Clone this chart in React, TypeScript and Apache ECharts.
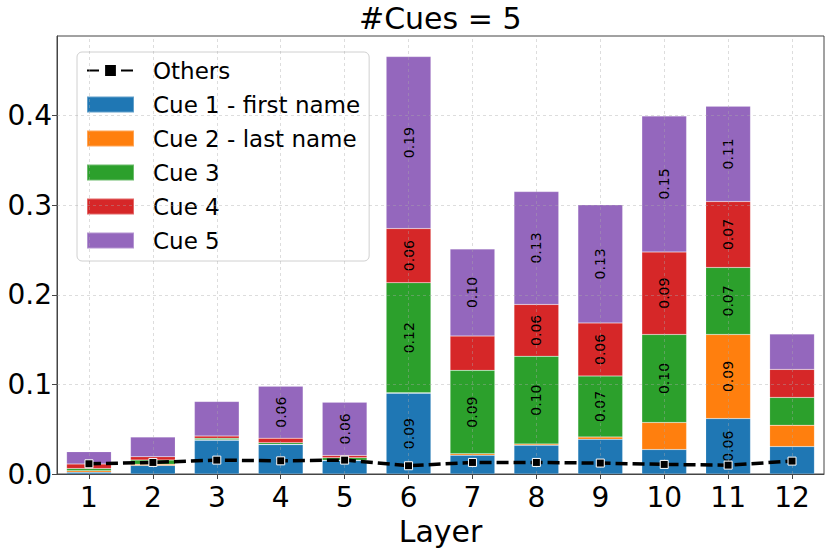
import React, { useEffect, useRef } from "react";
import * as echarts from "echarts";

const layers = ["1", "2", "3", "4", "5", "6", "7", "8", "9", "10", "11", "12"];
const cueNames = ["Cue 1 - first name", "Cue 2 - last name", "Cue 3", "Cue 4", "Cue 5"];
const cue1 = [0.002, 0.0096, 0.0376, 0.0328, 0.0151, 0.0902, 0.021, 0.032, 0.0387, 0.0273, 0.0619, 0.0306];
const cue2 = [0.0015, 0.0014, 0.0005, 0.0003, 0.0003, 0.0005, 0.0015, 0.0015, 0.0026, 0.0302, 0.0939, 0.0239];
const cue3 = [0.0026, 0.0045, 0.0017, 0.0019, 0.0027, 0.1229, 0.0932, 0.098, 0.0681, 0.0983, 0.0748, 0.031];
const cue4 = [0.0051, 0.0037, 0.0026, 0.005, 0.0026, 0.0604, 0.0383, 0.0578, 0.0593, 0.0921, 0.0736, 0.0313];
const cue5 = [0.0137, 0.022, 0.0386, 0.058, 0.0594, 0.192, 0.0972, 0.126, 0.1319, 0.1517, 0.1065, 0.0394];
const others = [0.0114, 0.0129, 0.0155, 0.0147, 0.0155, 0.0092, 0.0129, 0.0129, 0.0122, 0.0107, 0.0099, 0.0144];
const yTicks = [0.1, 0.2, 0.3, 0.4];
const colors = ["#1f77b4", "#ff7f0e", "#2ca02c", "#d62728", "#9467bd"];

const FONT = "DejaVu Sans";

export default function App() {
  const ref = useRef<HTMLDivElement>(null);
  useEffect(() => {
    if (!ref.current) return;
    const chart = echarts.init(ref.current, undefined, { renderer: "svg" });
    const cueData = [cue1, cue2, cue3, cue4, cue5];
    const gridLine = {
      silent: true,
      symbol: "none",
      z: 5,
      label: { show: false },
      lineStyle: { color: "rgba(170,170,170,0.5)", type: [3, 3], width: 0.8 },
      data: [
        ...layers.map((c) => ({ xAxis: c })),
        ...yTicks.map((v) => ({ yAxis: v })),
      ],
    };
    const barSeries = cueNames.map((name, i) => ({
      name,
      type: "bar",
      stack: "cues",
      barWidth: "70%",
      data: cueData[i],
      itemStyle: { color: colors[i], borderColor: "rgba(255,255,255,0.3)", borderWidth: 0.5 },
      label: {
        show: true,
        position: "inside",
        rotate: 90,
        fontSize: 14,
        fontFamily: FONT,
        color: "#000",
        formatter: (p: any) => (p.value >= 0.05 ? p.value.toFixed(2) : ""),
      },
      ...(i === 0 ? { markLine: gridLine } : {}),
    }));
    chart.setOption({
      animation: false,
      textStyle: { fontFamily: FONT },
      title: {
        text: "#Cues = 5",
        left: 359,
        top: 3,
        padding: 0,
        textStyle: { fontSize: 30, fontWeight: "normal", color: "#000", fontFamily: FONT },
      },
      legend: {
        data: [
          { name: "Others" },
          ...cueNames.map((n) => ({ name: n, icon: "rect" })),
        ],
        orient: "vertical",
        left: 77,
        top: 52,
        itemWidth: 47,
        itemHeight: 16,
        itemGap: 11,
        padding: [7, 9, 9, 9],
        backgroundColor: "rgba(255,255,255,0.85)",
        borderColor: "#d0d0d0",
        borderWidth: 1,
        borderRadius: 5,
        textStyle: { fontSize: 23, fontFamily: FONT, color: "#000", padding: [0, 0, 0, 14] },
      },
      grid: {
        left: 57,
        right: 6,
        top: 36,
        bottom: 73,
        show: true,
        borderColor: "#444",
        borderWidth: 1,
        backgroundColor: "transparent",
      },
      xAxis: {
        type: "category",
        data: layers,
        name: "Layer",
        nameLocation: "middle",
        nameGap: 42,
        nameTextStyle: { fontSize: 30, color: "#000", fontFamily: FONT },
        axisLine: { show: true, lineStyle: { color: "#444", width: 1 } },
        axisTick: { show: true, alignWithLabel: true, length: 5, lineStyle: { color: "#444" } },
        axisLabel: { fontSize: 28, color: "#000", margin: 9, fontFamily: FONT },
        splitLine: { show: false },
      },
      yAxis: {
        type: "value",
        min: 0,
        max: 0.489,
        interval: 0.1,
        axisLine: { show: true, lineStyle: { color: "#444", width: 1 } },
        axisTick: { show: true, length: 5, lineStyle: { color: "#444" } },
        axisLabel: {
          fontSize: 28,
          color: "#000",
          margin: 5,
          showMaxLabel: false,
          fontFamily: FONT,
          formatter: (v: number) => v.toFixed(1),
        },
        splitLine: { show: false },
      },
      series: [
        ...barSeries,
        {
          name: "Others",
          type: "line",
          data: others,
          z: 6,
          lineStyle: { color: "#000", width: 3.5, type: [12, 5] },
          itemStyle: { color: "#000", borderColor: "#fff", borderWidth: 1 },
          symbol: "rect",
          symbolSize: 8,
          showSymbol: true,
        },
      ],
    });
    return () => chart.dispose();
  }, []);
  return <div ref={ref} style={{ position: "absolute", left: 0, top: 0, width: 830, height: 551 }} />;
}
